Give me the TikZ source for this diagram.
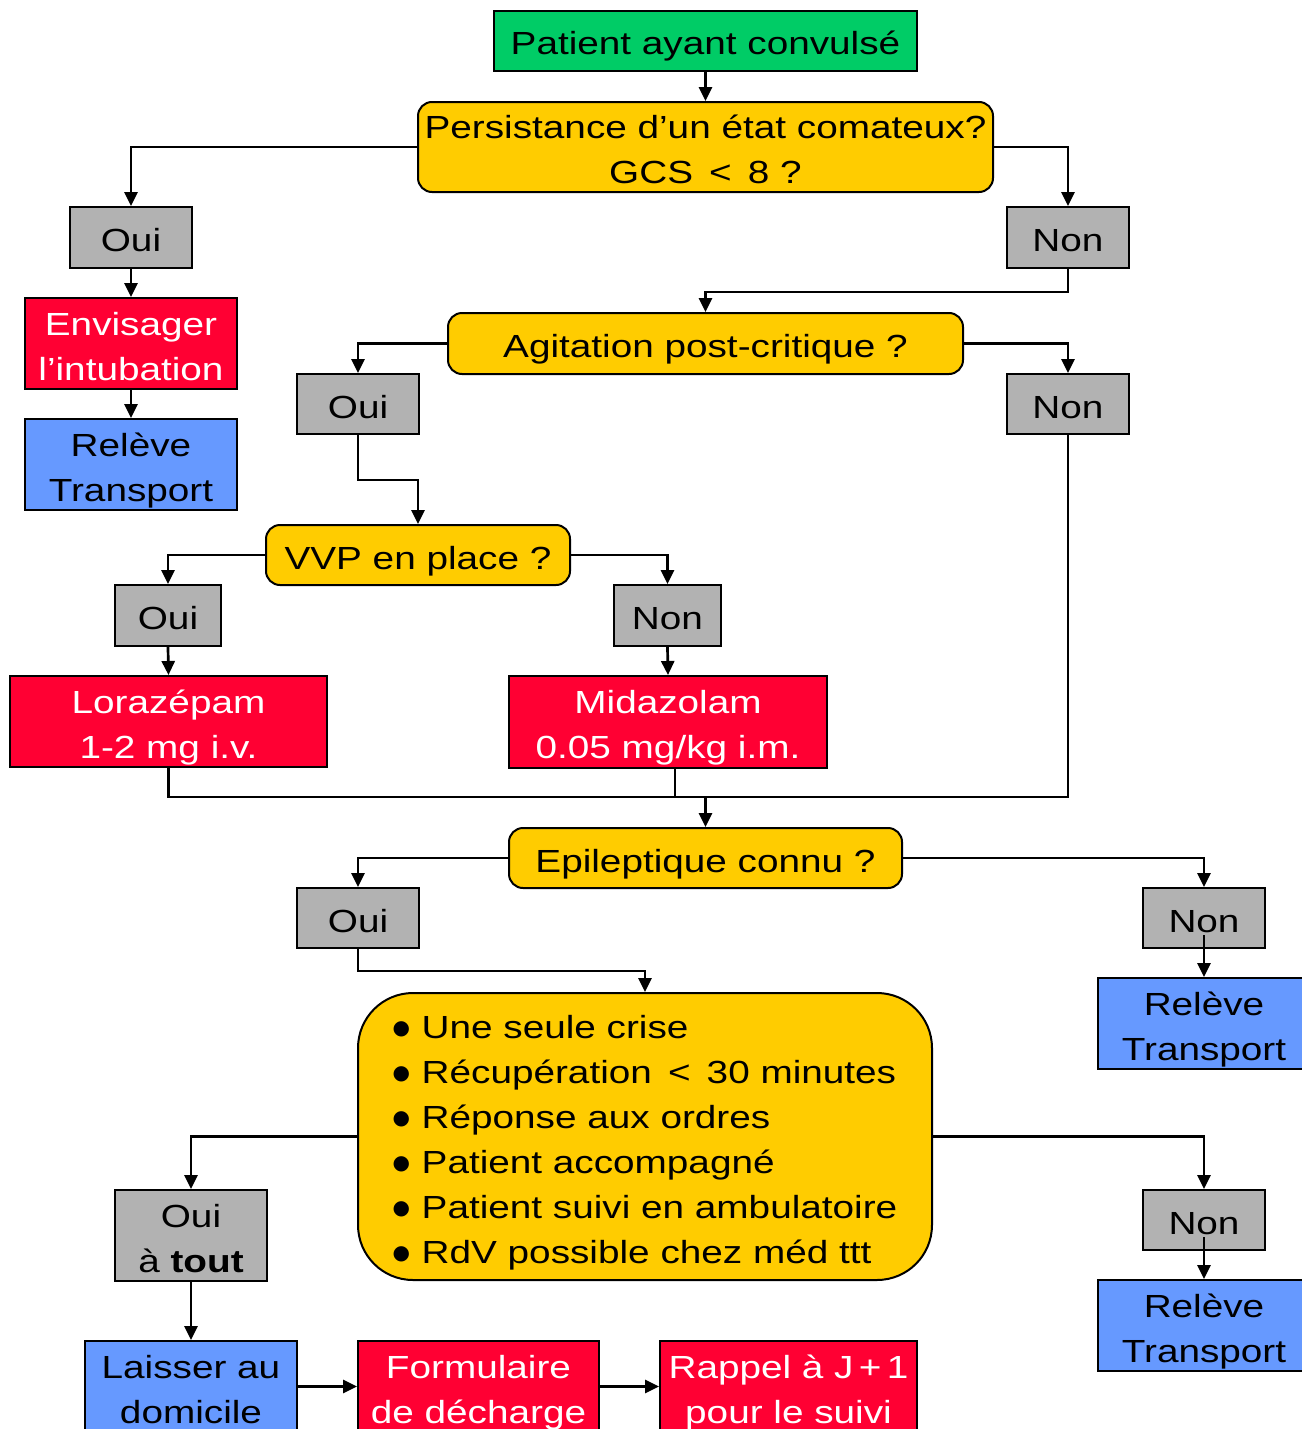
\documentclass[tikz,border=0pt]{standalone}
\usepackage{fontspec}
\setmainfont{Liberation Sans}[FakeStretch=1.21]
\newfontfamily\symfont{DejaVu Sans}
\usetikzlibrary{arrows.meta}
\definecolor{cgreen}{HTML}{00CC66}
\definecolor{cyellow}{HTML}{FFCC00}
\definecolor{cgray}{HTML}{B2B2B2}
\definecolor{cred}{HTML}{FF0033}
\definecolor{cblue}{HTML}{6699FF}
\newcommand\mybul{\makebox[29pt][l]{\raisebox{4pt}{\fontsize{20}{20}\symfont ●}}}
\begin{document}
\begin{tikzpicture}[x=1pt,y=-1pt,
  box/.style={draw=black,line width=2pt,inner sep=0pt,align=center,font=\fontsize{32}{45}\selectfont},
  oneline/.style={text height=34pt,text depth=6pt},
  twoline/.style={text height=79pt,text depth=6pt},
  startbox/.style={box,oneline,fill=cgreen},
  qbox/.style={box,fill=cyellow,rounded corners=14pt},
  ansbox/.style={box,fill=cgray},
  actbox/.style={box,twoline,fill=cred,text=white},
  endbox/.style={box,twoline,fill=cblue},
  arr/.style={line width=2.7pt,-{Triangle[length=14pt,width=13pt]}},
  ln/.style={line width=2.7pt},
  thinln/.style={line width=1.6pt}
]
\useasboundingbox (0,0) rectangle (1301,1429);

\node[startbox,minimum width=423pt,minimum height=60pt] (start) at (705.5,41) {Patient ayant convulsé};
\node[qbox,twoline,minimum width=575pt,minimum height=90pt] (q1) at (705.5,147) {Persistance d’un état comateux?\\GCS \,<\, 8 ?};
\node[ansbox,oneline,minimum width=122pt,minimum height=61pt] (oui1) at (131,237.5) {Oui};
\node[ansbox,oneline,minimum width=122pt,minimum height=61pt] (non1) at (1068,237.5) {Non};
\node[actbox,minimum width=212pt,minimum height=91pt] (intub) at (131,343.5) {Envisager\\l’intubation};
\node[endbox,minimum width=212pt,minimum height=91pt] (rel1) at (131,464.5) {Relève\\Transport};

\node[qbox,oneline,minimum width=515pt,minimum height=61pt] (q2) at (705.5,343.5) {Agitation post-critique ?};
\node[ansbox,oneline,minimum width=122pt,minimum height=60pt] (oui2) at (358,404) {Oui};
\node[ansbox,oneline,minimum width=122pt,minimum height=60pt] (non2) at (1068,404) {Non};

\node[qbox,oneline,minimum width=304pt,minimum height=60pt] (q3) at (418,555) {VVP en place ?};
\node[ansbox,oneline,minimum width=106pt,minimum height=61pt] (oui3) at (168,615.5) {Oui};
\node[ansbox,oneline,minimum width=107pt,minimum height=61pt] (non3) at (667.5,615.5) {Non};
\node[actbox,minimum width=317pt,minimum height=91pt] (loraz) at (168.5,721.5) {Lorazépam\\1-2 mg i.v.};
\node[actbox,minimum width=318pt,minimum height=92pt] (midaz) at (668,722) {Midazolam\\0.05 mg/kg i.m.};

\node[qbox,oneline,minimum width=393pt,minimum height=60pt] (q4) at (705.5,858) {Epileptique connu ?};
\node[ansbox,oneline,minimum width=122pt,minimum height=60pt] (oui4) at (358,918) {Oui};
\node[ansbox,oneline,minimum width=122pt,minimum height=60pt] (non4) at (1204,918) {Non};
\node[endbox,minimum width=212pt,minimum height=91pt] (rel2) at (1204,1023.5) {Relève\\Transport};

\node[qbox,rounded corners=55pt,minimum width=574pt,minimum height=287pt,align=left,text height=259pt,text depth=6pt] (crit) at (645,1136.5)
 {\mybul Une seule crise\\\mybul Récupération \,<\, 30 minutes\\\mybul Réponse aux ordres\\\mybul Patient accompagné\\\mybul Patient suivi en ambulatoire\\\mybul RdV possible chez méd ttt};
\node[ansbox,twoline,minimum width=152pt,minimum height=91pt] (oui5) at (191,1235.5) {Oui\\à \textbf{tout}};
\node[ansbox,oneline,minimum width=122pt,minimum height=60pt] (non5) at (1204,1220) {Non};
\node[endbox,minimum width=212pt,minimum height=91pt] (rel3) at (1204,1325.5) {Relève\\Transport};

\node[endbox,minimum width=212pt,minimum height=91pt] (laisser) at (191,1386.5) {Laisser au\\domicile};
\node[actbox,minimum width=241pt,minimum height=91pt] (form) at (478.5,1386.5) {Formulaire\\de décharge};
\node[actbox,minimum width=257pt,minimum height=91pt] (rappel) at (788.5,1386.5) {Rappel à J\,+\,1\\pour le suivi};

\coordinate (j1) at (705.5,797);

\draw[arr] (start.south) -- (q1.north);
\draw[arr] (q1.west) -| (oui1.north);
\draw[arr] (q1.east) -| (non1.north);
\draw[arr] (oui1.south) -- (intub.north);
\draw[arr] (intub.south) -- (rel1.north);
\draw[arr] (non1.south) -- ++(0,23) -| (q2.north);
\draw[arr] (q2.west) -| (oui2.north);
\draw[arr] (q2.east) -| (non2.north);
\draw[arr] (oui2.south) -- ++(0,45) -| (q3.north);
\draw[arr] (q3.west) -| (oui3.north);
\draw[arr] (q3.east) -| (non3.north);
\draw[arr] (oui3.south) -- (loraz.north);
\draw[arr] (non3.south) -- (midaz.north);
\draw[ln] (loraz.south) |- (j1);
\draw[thinln] ([xshift=7pt]midaz.south) -- ([xshift=7pt]midaz.south |- j1);
\draw[thinln] (non2.south) |- (j1);
\draw[arr] (j1) -- (q4.north);
\draw[arr] (q4.west) -| (oui4.north);
\draw[arr] (q4.east) -| (non4.north);
\draw[arr] ([yshift=-17pt]non4.center) -- (rel2.north);
\draw[arr] (oui4.south) -- ++(0,22) -| (crit.north);
\draw[arr] (crit.west) -| (oui5.north);
\draw[arr] (crit.east) -| (non5.north);
\draw[arr] ([yshift=-17pt]non5.center) -- (rel3.north);
\draw[arr] (oui5.south) -- (laisser.north);
\draw[arr] (laisser.east) -- (form.west);
\draw[arr] (form.east) -- (rappel.west);
\end{tikzpicture}
\end{document}
